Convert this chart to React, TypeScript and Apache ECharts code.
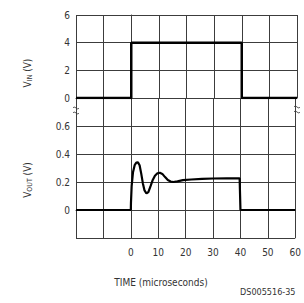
import React, { useEffect, useRef } from "react";
import * as echarts from "echarts";

const timeTicks = [-20, -10, 0, 10, 20, 30, 40, 50, 60];
const vinTime = [-20, 0, 0, 40, 40, 60];
const vinValues = [0, 0, 4, 4, 0, 0];
const voutTime = [-20, 0, 0.05, 0.3, 0.8, 1.4, 2.0, 2.6, 3.2, 3.8, 4.4, 5.0, 5.7, 6.4, 7.2, 8.0, 8.8, 9.7, 10.6, 11.5, 12.5, 13.5, 14.5, 15.5, 17, 19, 22, 26, 30, 35, 39.7, 40, 60];
const voutValues = [0, 0, 0.05, 0.17, 0.27, 0.32, 0.338, 0.34, 0.32, 0.26, 0.19, 0.14, 0.118, 0.128, 0.17, 0.215, 0.245, 0.262, 0.266, 0.258, 0.235, 0.214, 0.203, 0.2, 0.205, 0.213, 0.218, 0.222, 0.225, 0.226, 0.226, 0, 0];
const vinTicks = [0, 2, 4, 6];
const voutTicks = [0, 0.2, 0.4, 0.6];

const FONT = "'Liberation Sans Narrow', 'DejaVu Sans Condensed', 'Liberation Sans', sans-serif";
const GRID_COLOR = "#3c3c3c";
const LABEL_COLOR = "#333";

export default function App() {
  const ref = useRef<HTMLDivElement>(null);
  useEffect(() => {
    if (!ref.current) return;
    const chart = echarts.init(ref.current, null, { renderer: "svg" });
    const xAxisBase = (gridIndex: number, showLabels: boolean) => ({
      type: "value" as const,
      gridIndex,
      min: timeTicks[0],
      max: timeTicks[timeTicks.length - 1],
      interval: 10,
      axisLine: { show: true, lineStyle: { color: GRID_COLOR, width: 1 } },
      axisTick: { show: false },
      splitLine: { show: true, lineStyle: { color: GRID_COLOR, width: 1 } },
      axisLabel: {
        show: showLabels,
        margin: 9,
        color: LABEL_COLOR,
        fontSize: 10,
        fontFamily: FONT,
        formatter: (v: number) => (v >= 0 ? String(v) : ""),
      },
    });
    const sq = (x: number, y: number) => ({
      type: "bezierCurve",
      shape: { x1: x, y1: y, cpx1: x + 2, cpy1: y - 3, cpx2: x + 4, cpy2: y + 3, x2: x + 6, y2: y },
      style: { stroke: "#444", lineWidth: 1, fill: null },
    });
    chart.setOption({
      animation: false,
      grid: [
        { left: 76, top: 15, width: 221, height: 83 },
        { left: 76, top: 98, width: 221, height: 140 },
      ],
      xAxis: [xAxisBase(0, false), xAxisBase(1, true)],
      yAxis: [
        {
          type: "value",
          gridIndex: 0,
          min: vinTicks[0],
          max: vinTicks[vinTicks.length - 1],
          interval: 2,
          axisLine: { show: true, lineStyle: { color: GRID_COLOR, width: 1 } },
          axisTick: { show: false },
          splitLine: { show: true, lineStyle: { color: GRID_COLOR, width: 1 } },
          axisLabel: { margin: 6, color: LABEL_COLOR, fontSize: 10, fontFamily: FONT },
        },
        {
          type: "value",
          gridIndex: 1,
          min: -0.2,
          max: 0.8,
          interval: 0.2,
          axisLine: { show: true, lineStyle: { color: GRID_COLOR, width: 1 } },
          axisTick: { show: false },
          splitLine: {
            show: true,
            lineStyle: { color: GRID_COLOR, width: 1 },
          },
          axisLabel: {
            margin: 6,
            color: LABEL_COLOR,
            fontSize: 10,
            fontFamily: FONT,
            formatter: (v: number) => {
              const r = Math.round(v * 10) / 10;
              return voutTicks.some((t) => Math.abs(t - r) < 1e-6) ? String(r) : "";
            },
          },
        },
      ],
      series: [
        {
          type: "line",
          xAxisIndex: 0,
          yAxisIndex: 0,
          data: vinTime.map((t, i) => [t, vinValues[i]]),
          showSymbol: false,
          lineStyle: { color: "#000", width: 2.5 },
        },
        {
          type: "line",
          xAxisIndex: 1,
          yAxisIndex: 1,
          data: voutTime.map((t, i) => [t, voutValues[i]]),
          showSymbol: false,
          lineStyle: { color: "#000", width: 2.2 },
        },
      ],
      graphic: [
        {
          type: "text",
          x: 27,
          y: 73,
          rotation: Math.PI / 2,
          style: {
            text: "{m|V}{s|IN}{m| (V)}",
            align: "center",
            verticalAlign: "middle",
            fill: LABEL_COLOR,
            rich: {
              m: { fontSize: 10, fontFamily: FONT, fill: LABEL_COLOR, lineHeight: 12, verticalAlign: "middle" },
              s: { fontSize: 7, fontFamily: FONT, fill: LABEL_COLOR, lineHeight: 12, verticalAlign: "bottom" },
            },
          },
        },
        {
          type: "text",
          x: 27,
          y: 180,
          rotation: Math.PI / 2,
          style: {
            text: "{m|V}{s|OUT}{m| (V)}",
            align: "center",
            verticalAlign: "middle",
            fill: LABEL_COLOR,
            rich: {
              m: { fontSize: 10, fontFamily: FONT, fill: LABEL_COLOR, lineHeight: 12, verticalAlign: "middle" },
              s: { fontSize: 7, fontFamily: FONT, fill: LABEL_COLOR, lineHeight: 12, verticalAlign: "bottom" },
            },
          },
        },
        {
          type: "text",
          x: 161,
          y: 282,
          style: {
            text: "TIME (microseconds)",
            align: "center",
            verticalAlign: "middle",
            fontSize: 10,
            fontFamily: FONT,
            fill: LABEL_COLOR,
          },
        },
        {
          type: "text",
          x: 240,
          y: 292,
          style: {
            text: "DS005516-35",
            align: "left",
            verticalAlign: "middle",
            fontSize: 9,
            fontFamily: FONT,
            fill: LABEL_COLOR,
          },
        },
        sq(73, 108),
        sq(73, 113),
        sq(294, 107),
        sq(294, 112),
      ],
    });
    return () => chart.dispose();
  }, []);
  return (
    <div
      ref={ref}
      style={{ position: "fixed", left: 0, top: 0, width: 304, height: 303, background: "#fff" }}
    />
  );
}
